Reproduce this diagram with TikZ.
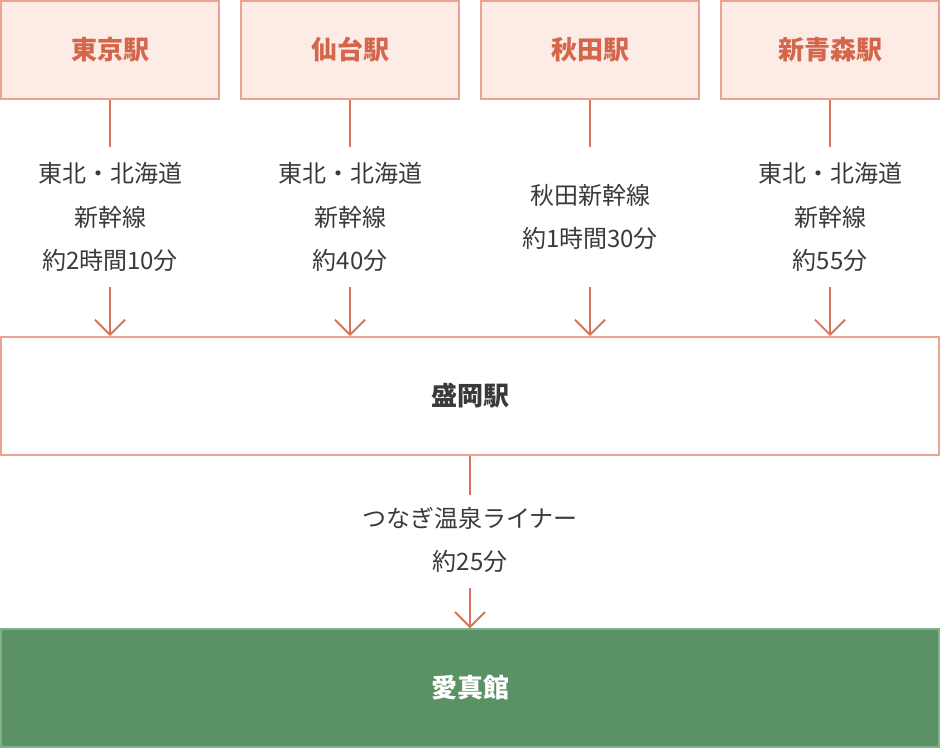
\documentclass[tikz,border=0pt]{standalone}
\usepackage{fontspec}
\setmainfont{Noto Sans CJK JP}
\usetikzlibrary{arrows.meta}
\definecolor{boxfill}{HTML}{FDEBE5}
\definecolor{boxline}{HTML}{EBA391}
\definecolor{ttl}{HTML}{D4664B}
\definecolor{conn}{HTML}{D9735B}
\definecolor{txt}{HTML}{3A3A3A}
\definecolor{green}{HTML}{5A9165}
\definecolor{greenline}{HTML}{83B08C}
\tikzset{
 stbox/.style={draw=boxline,fill=boxfill,line width=1.5pt,minimum width=218pt,minimum height=98pt,inner sep=0pt,font=\fontsize{26}{30}\selectfont\bfseries,text=ttl},
 midbox/.style={draw=boxline,fill=white,line width=1.5pt,minimum width=938pt,minimum height=118pt,inner sep=0pt,font=\fontsize{26}{30}\selectfont\bfseries,text=txt},
 endbox/.style={draw=greenline,fill=green,line width=1.5pt,minimum width=938pt,minimum height=118pt,inner sep=0pt,font=\fontsize{26}{30}\selectfont\bfseries,text=white},
 lbl/.style={align=center,text=txt,font=\fontsize{24}{43.5}\selectfont,inner sep=0pt},
 ln/.style={draw=conn,line width=1.8pt},
 arr/.style={ln,-{Straight Barb[length=15pt,width=30pt,line width=1.8pt]}}
}
\begin{document}
\begin{tikzpicture}[x=1pt,y=-1pt]
\useasboundingbox (0,0) rectangle (940,748);
\node[stbox] (t1) at (110,50) {東京駅};
\node[stbox] (t2) at (350,50) {仙台駅};
\node[stbox] (t3) at (590,50) {秋田駅};
\node[stbox] (t4) at (830,50) {新青森駅};
\node[midbox] (m) at (470,396) {盛岡駅};
\node[endbox] (e) at (470,688) {愛真館};
\node[lbl] (l1) at (110,217) {東北・北海道\\新幹線\\約2時間10分};
\node[lbl] (l2) at (350,217) {東北・北海道\\新幹線\\約40分};
\node[lbl] (l3) at (590,217) {秋田新幹線\\約1時間30分};
\node[lbl] (l4) at (830,217) {東北・北海道\\新幹線\\約55分};
\node[lbl] (l5) at (470,540) {つなぎ温泉ライナー\\約25分};
\foreach \i/\x in {1/110,2/350,3/590,4/830}{
 \coordinate (a\i) at (\x,147);
 \coordinate (b\i) at (\x,287);
 \coordinate (c\i) at (\x,336);
 \draw[ln] (t\i.south) -- (a\i);
 \draw[arr] (b\i) -- (c\i);
}
\coordinate (a5) at (470,495);
\coordinate (b5) at (470,588);
\draw[ln] (m.south) -- (a5);
\draw[arr] (b5) -- (e.north);
\end{tikzpicture}
\end{document}
